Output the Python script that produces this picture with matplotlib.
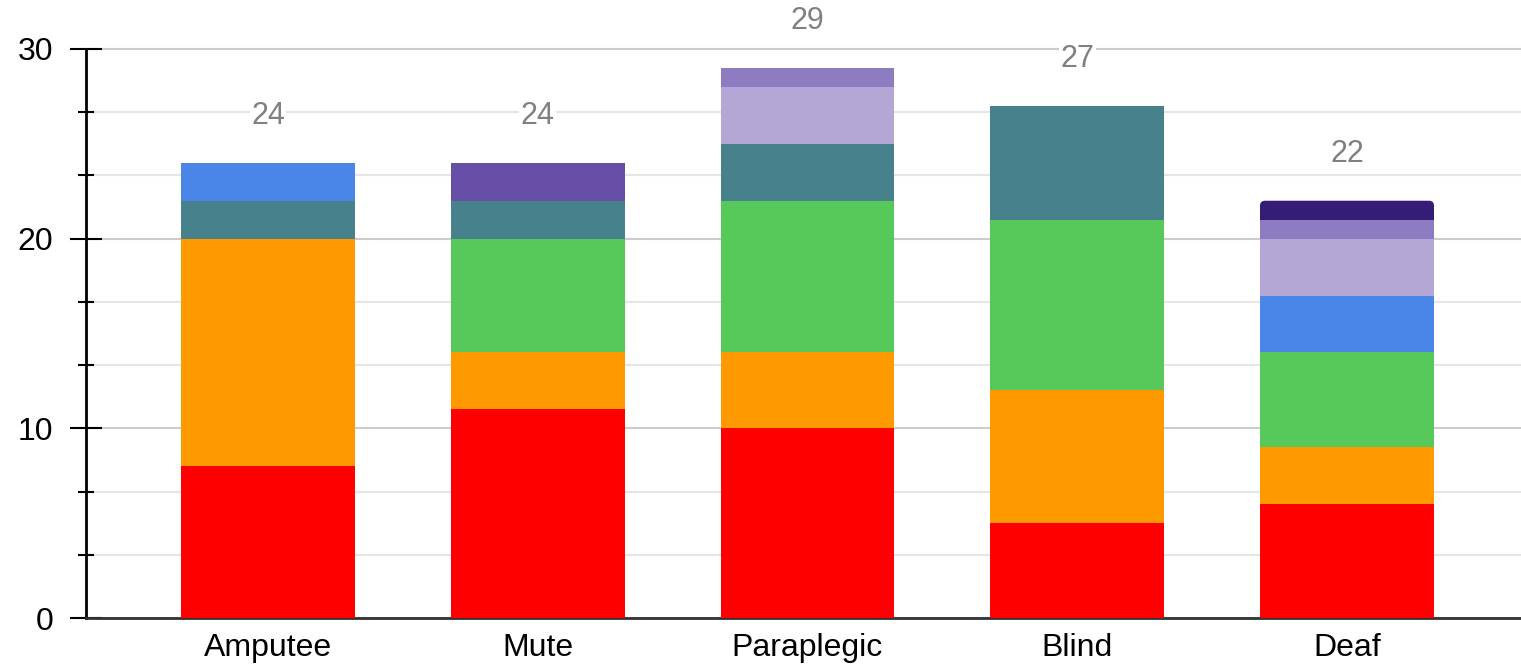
import matplotlib
matplotlib.use("Agg")
import matplotlib.pyplot as plt
import numpy as np
from matplotlib.patches import FancyBboxPatch, Rectangle
from matplotlib.ticker import MultipleLocator

plt.rcParams['font.family'] = ['Liberation Sans', 'DejaVu Sans']

categories = ["Amputee", "Mute", "Paraplegic", "Blind", "Deaf"]

s_red = [8, 11, 10, 5, 6]
s_orange = [12, 3, 4, 7, 3]
s_green = [0, 6, 8, 9, 5]
s_teal = [2, 2, 3, 6, 0]
s_blue = [2, 0, 0, 0, 3]
s_lavender = [0, 0, 3, 0, 3]
s_purple = [0, 0, 1, 0, 1]
s_darkpurple = [0, 2, 0, 0, 0]
s_indigo = [0, 0, 0, 0, 1]

series = [s_red, s_orange, s_green, s_teal, s_blue, s_lavender,
          s_purple, s_darkpurple, s_indigo]
colors = ["#ff0000", "#ff9900", "#57c95a", "#46818c", "#4a86e8", "#b4a7d6",
          "#8e7cc3", "#674ea7", "#351c75"]

W, H = 1521, 668
fig = plt.figure(figsize=(W / 100, H / 100), dpi=100)
ax_left, ax_bottom_px, ax_top_px = 86, 618, 0
ax = fig.add_axes([ax_left / W, (H - ax_bottom_px) / H,
                   (W - ax_left) / W, (ax_bottom_px - ax_top_px) / H])

px_per_unit = (618 - 49) / 30.0
ymax = 30 + 49 / px_per_unit
ax.set_ylim(0, ymax)
spacing = 269.75
first_center = 268
ax.set_xlim(-(first_center - 86) / spacing, (1521 - first_center) / spacing)

x = np.arange(len(categories))
width = 0.645
bottom = np.zeros(len(categories))
totals = np.sum(np.array(series), axis=0)
for vals, col in zip(series, colors):
    vals = np.array(vals, dtype=float)
    for i in range(len(categories)):
        if vals[i] <= 0:
            continue
        is_top = np.isclose(bottom[i] + vals[i], totals[i])
        if is_top and col == "#351c75":
            r_x = 5 / spacing
            r_y = 5 / px_per_unit
            p = FancyBboxPatch((x[i] - width / 2, bottom[i]), width, vals[i],
                               boxstyle=f"round,pad=0,rounding_size={r_x}",
                               mutation_aspect=r_y / r_x,
                               facecolor=col, edgecolor='none', zorder=3)
            ax.add_patch(p)
            ax.add_patch(Rectangle((x[i] - width / 2, bottom[i]), width, vals[i] / 2,
                                   facecolor=col, edgecolor='none', zorder=3))
        else:
            ax.add_patch(Rectangle((x[i] - width / 2, bottom[i]), width, vals[i],
                                   facecolor=col, edgecolor='none', zorder=3))
    bottom += vals

for i, t in enumerate(totals):
    ax.annotate(f"{int(t)}", (x[i], t), xytext=(0, 34), textcoords='offset points',
                ha='center', va='center', fontsize=22, color='#808080', zorder=5,
                bbox=dict(facecolor='white', edgecolor='none', pad=1))

ax.yaxis.set_major_locator(MultipleLocator(10))
ax.yaxis.set_minor_locator(MultipleLocator(10 / 3))
ax.set_yticks([0, 10, 20, 30])
ax.grid(which='major', axis='y', color='#cccccc', linewidth=1.5, zorder=0)
ax.grid(which='minor', axis='y', color='#e6e6e6', linewidth=1.5, zorder=0)
ax.set_axisbelow(True)

ax.set_xticks(x)
ax.set_xticklabels(categories, fontsize=23)
ax.tick_params(axis='x', length=0, pad=11)
ax.tick_params(axis='y', which='major', direction='inout', length=23, width=1.5,
               labelsize=23, pad=12, color='black')
ax.tick_params(axis='y', which='minor', direction='inout', length=11.5, width=1.5,
               color='black')

for s in ['top', 'right']:
    ax.spines[s].set_visible(False)
ax.spines['left'].set_linewidth(2)
ax.spines['left'].set_bounds(0, 30)
ax.spines['bottom'].set_linewidth(2)
ax.spines['bottom'].set_color('#333333')

fig.savefig("out.png", dpi=100)
